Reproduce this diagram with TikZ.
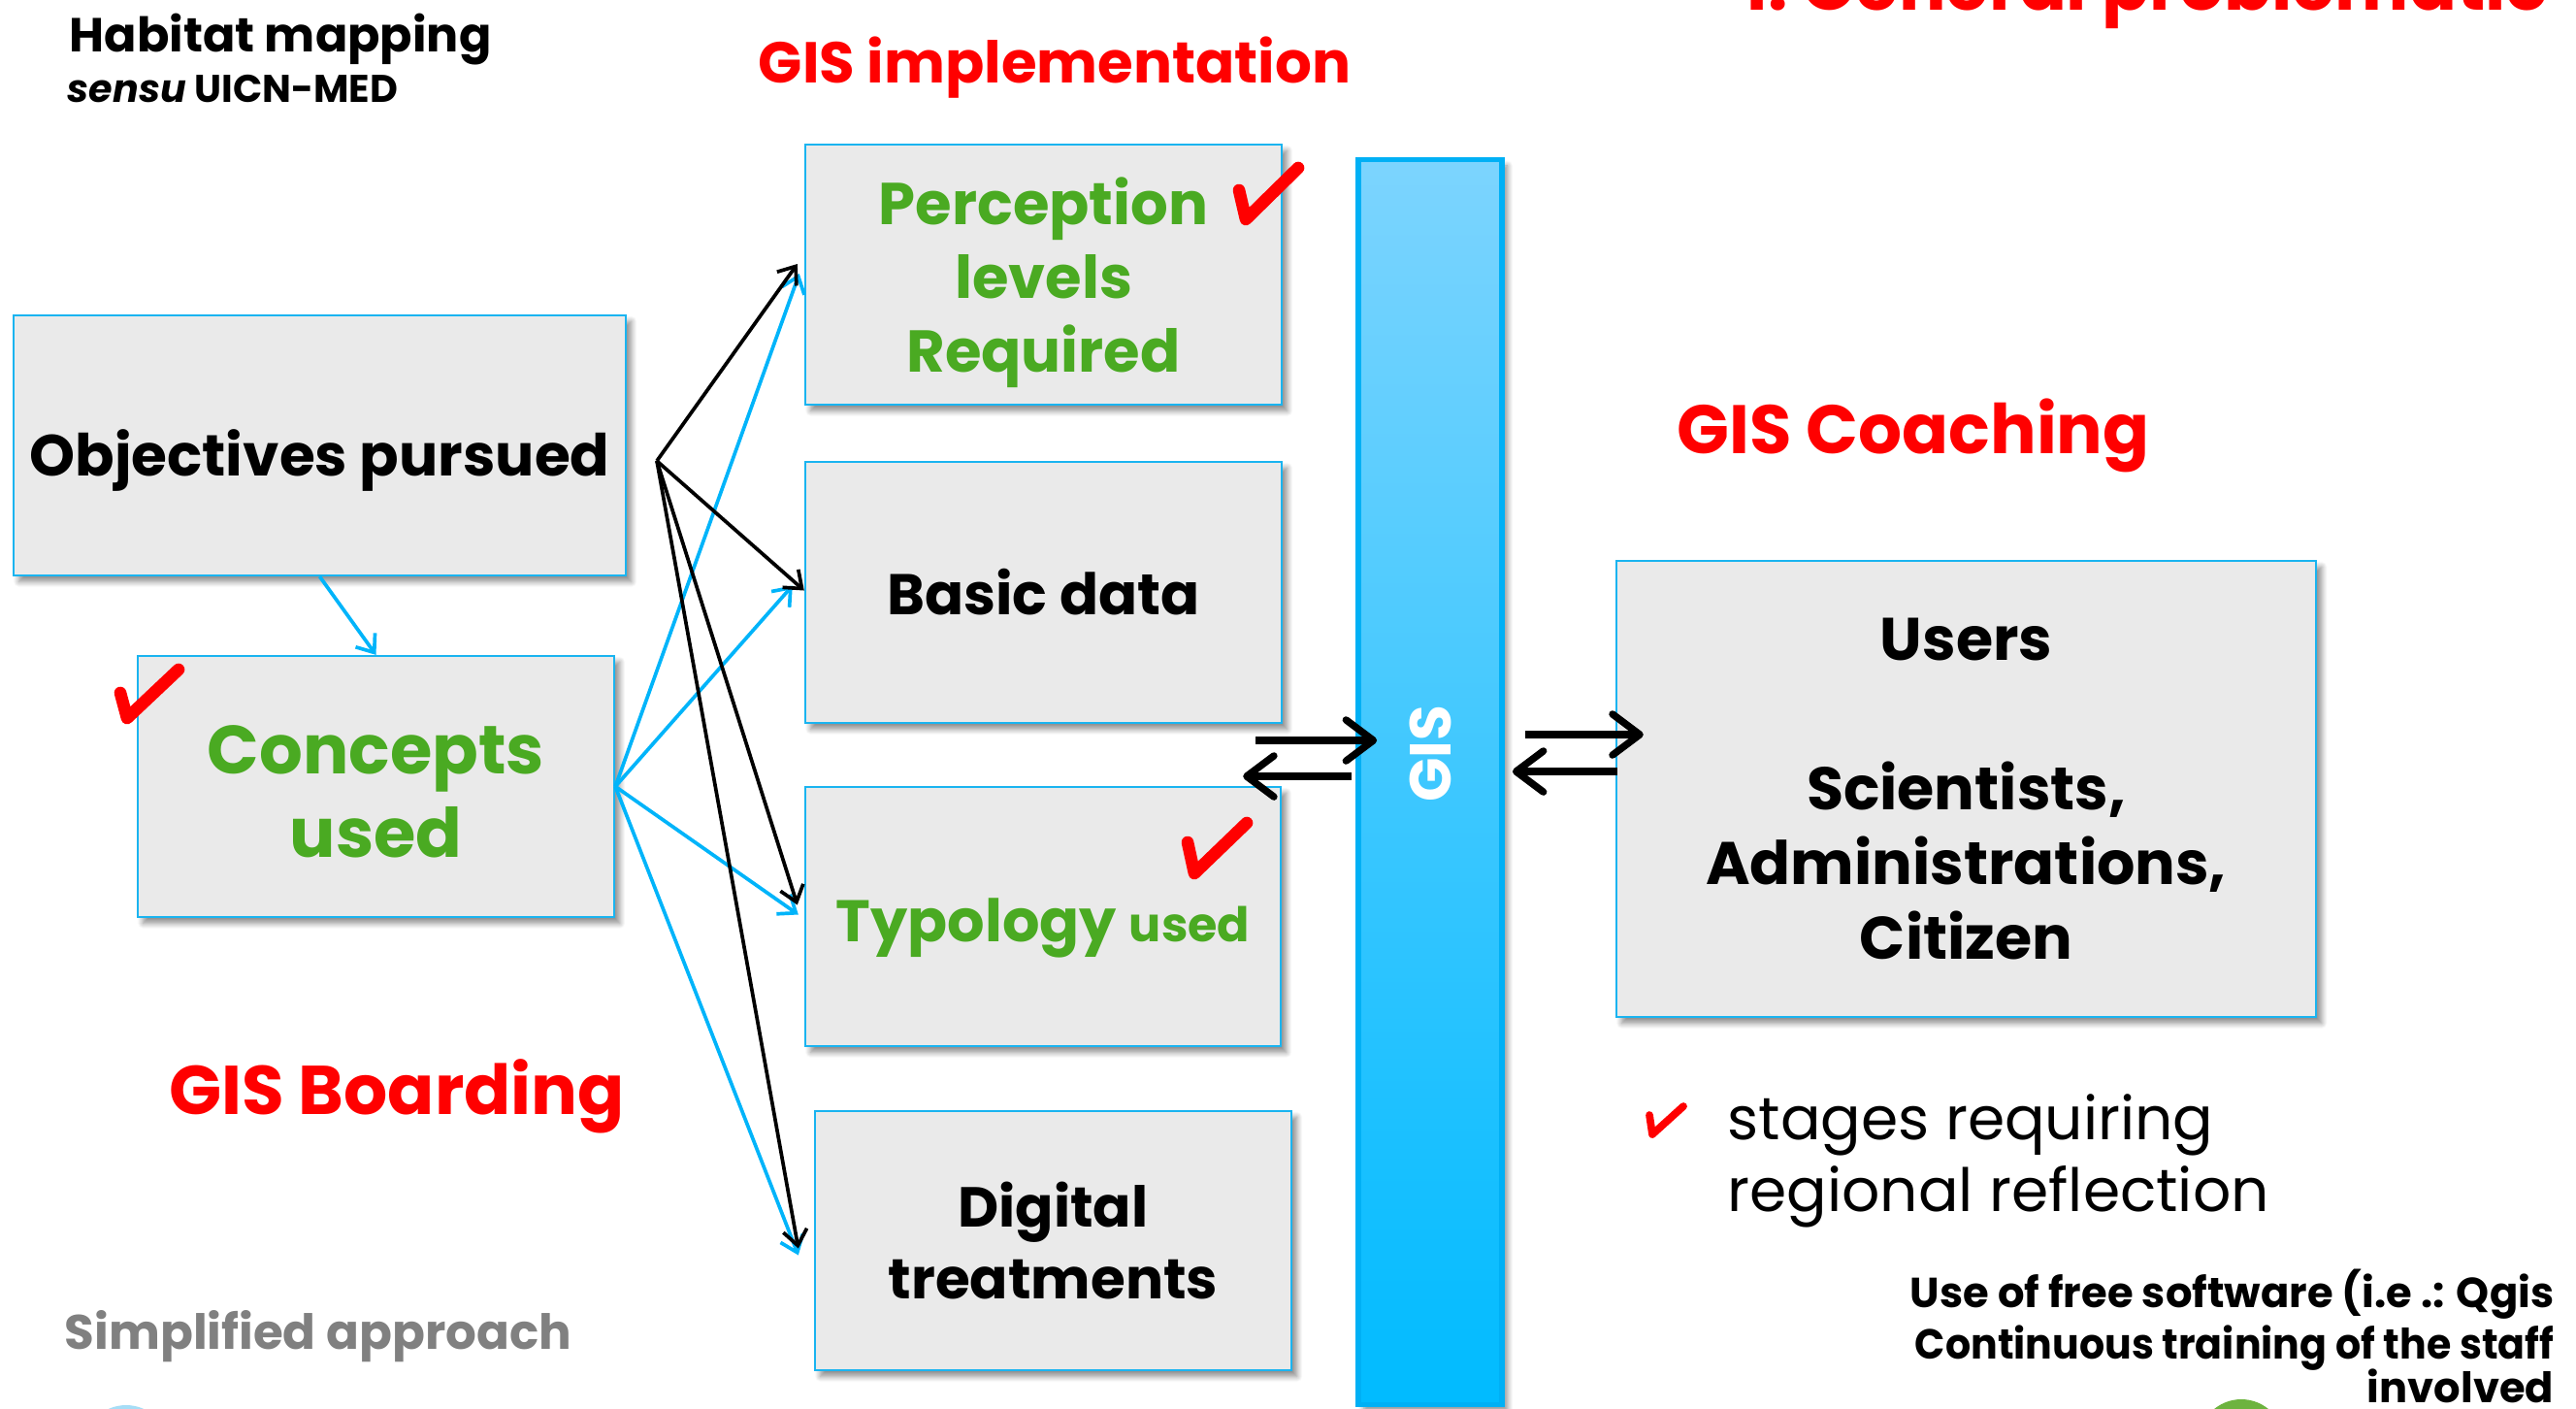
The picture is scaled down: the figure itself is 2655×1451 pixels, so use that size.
\documentclass[tikz,border=0pt]{standalone}
\usepackage{fontspec}
\setmainfont{Poppins}
\usetikzlibrary{arrows.meta,calc,shadows.blur}
\definecolor{boxfill}{HTML}{EAEAEA}
\definecolor{boxline}{HTML}{1AB4F0}
\definecolor{fanblue}{HTML}{00B4FA}
\definecolor{titlered}{HTML}{FF0000}
\definecolor{leafgreen}{HTML}{4AAA22}
\definecolor{greytext}{HTML}{808080}
\definecolor{barTop}{HTML}{7CD4FE}
\definecolor{barBottom}{HTML}{00BBFF}
\definecolor{barEdge}{HTML}{00B0F5}
\definecolor{iconblue}{HTML}{A6DDF6}
\definecolor{icongreen}{HTML}{6DB33F}

\newcommand\fs[2]{\fontsize{#1}{#2}\selectfont}
% lower a label inside its box without changing the box size
\newcommand\lowered[2]{\raisebox{-#1}[\height][\depth]{#2}}

\begin{document}
\begin{tikzpicture}[x=0.01cm,y=-0.01cm,
  box/.style={draw=boxline, line width=0.6pt, fill=boxfill, inner sep=0pt, align=center,
    blur shadow={shadow xshift=1.6pt, shadow yshift=-1.8pt, shadow blur radius=1.6pt,
                 shadow blur steps=8, shadow opacity=45}},
  heading/.style={text=titlered, font=\bfseries\fs{20}{24}, inner sep=0pt, anchor=base},
  plain/.style={inner sep=0pt},
  fanblack/.style={draw=black, line width=1.05pt, -{Straight Barb[length=4.5pt,width=7pt]}},
  fancyan/.style={draw=fanblue, line width=1.05pt, -{Straight Barb[length=4.5pt,width=7pt]}},
  swaparrow/.style={draw=black, line width=2.1pt, -{Straight Barb[length=8pt,width=12pt,round]}},
  redtick/.style={draw=titlered, line width=3.6pt, line cap=round, line join=round},
]
\useasboundingbox (0,0) rectangle (2655,1451);
\begin{scope}
\clip (0,0) rectangle (2655,1451);

% ---- headings and free texts ----
\node[plain, anchor=base west, font=\bfseries\fs{14}{17}] (habitat) at (71,53) {Habitat mapping};
\node[plain, anchor=base west, font=\bfseries\fs{11.3}{14}] (sensu) at (69,105) {\textit{sensu} UICN-MED};
\node[heading, font=\bfseries\fs{16.9}{20}] (impl) at (1087,85) {GIS implementation};
\node[heading, anchor=base east, font=\bfseries\fs{20.5}{25}] (general) at (2627,10) {I. General problematic};
\node[heading, font=\bfseries\fs{20.1}{24}] (coach) at (1972,467) {GIS Coaching};
\node[heading, font=\bfseries\fs{20.2}{24}] (board) at (409,1148) {GIS Boarding};
\node[plain, anchor=base, text=greytext, font=\bfseries\fs{14.2}{17}] (simple) at (328,1390) {Simplified approach};

% ---- boxes ----
\node[box, minimum width=6.31cm, minimum height=2.68cm, font=\bfseries\fs{17}{21}] (obj) at (329.5,459)
  {\lowered{4.3pt}{Objectives pursued}};
\node[box, minimum width=4.91cm, minimum height=2.69cm, text=leafgreen, font=\bfseries\fs{20}{24.5}] (conc) at (387.5,810.5)
  {\lowered{1.5pt}{\parbox{4cm}{\centering Concepts\\used}}};
\node[box, minimum width=4.91cm, minimum height=2.68cm, text=leafgreen, font=\bfseries\fs{17.3}{21.6}] (perc) at (1075.5,283)
  {\lowered{2.4pt}{\parbox{4cm}{\centering Perception\\levels\\Required}}};
\node[box, minimum width=4.91cm, minimum height=2.69cm, font=\bfseries\fs{16.8}{21}] (basic) at (1075.5,610.5) {Basic data};
\node[box, minimum width=4.90cm, minimum height=2.67cm, text=leafgreen, font=\bfseries] (typo) at (1075,944.5)
  {\lowered{3.4pt}{\fs{17.2}{22}Typology {\fs{14}{22}used}}};
\node[box, minimum width=4.91cm, minimum height=2.67cm, font=\bfseries\fs{16.5}{21}] (digit) at (1085.5,1278.5) {Digital\\treatments};
\node[box, minimum width=7.21cm, minimum height=4.70cm, font=\bfseries\fs{17.6}{21.9}] (users) at (2026.5,813)
  {Users\\[21.9pt]Scientists,\\Administrations,\\Citizen};

% ---- GIS bar ----
\node[draw=barEdge, line width=1.6pt, top color=barTop, bottom color=barBottom,
      minimum width=1.48cm, minimum height=12.82cm, inner sep=0pt,
      blur shadow={shadow xshift=1.6pt, shadow yshift=-1.8pt, shadow blur radius=1.6pt,
                   shadow blur steps=8, shadow opacity=45}] (gis) at (1474,806) {};
\node[plain, rotate=90, text=white, font=\bfseries\fs{17}{20}] (gislabel) at (1474,777) {GIS};

% ---- fans of connectors ----
\coordinate (hub) at (677,475);
\draw[fancyan] (obj.south) -- (conc.north);
\draw[fancyan] (conc.east) -- ($(perc.west)+(-5,-1)$);
\draw[fancyan] (conc.east) -- ($(basic.west)+(-12,-7)$);
\draw[fancyan] (conc.east) -- ($(typo.west)+(-6,-2)$);
\draw[fancyan] (conc.east) -- ($(digit.west)+(-16,15)$);
\draw[fanblack] (hub) -- ($(perc.west)+(-7,-11)$);
\draw[fanblack] (hub) -- ($(basic.west)+(0,-2)$);
\draw[fanblack] (hub) -- ($(typo.west)+(-7,-12)$);
\draw[fanblack] (hub) -- ($(digit.west)+(-16,8)$);

% ---- exchanges with the GIS ----
\coordinate (l1s) at ($(gis.west)+(-103,-43)$);
\coordinate (l1e) at ($(gis.west)+(22,-43)$);
\coordinate (l2s) at ($(gis.west)+(-4,-6)$);
\coordinate (l2e) at ($(gis.west)+(-116,-6)$);
\coordinate (r1s) at ($(gis.east)+(21,-49)$);
\coordinate (r1e) at ($(users.west)+(29,-56)$);
\coordinate (r2s) at ($(users.west)+(2,-18)$);
\coordinate (r2e) at ($(gis.east)+(8,-11)$);
\draw[swaparrow] (l1s) -- (l1e);
\draw[swaparrow] (l2s) -- (l2e);
\draw[swaparrow] (r1s) -- (r1e);
\draw[swaparrow] (r2s) -- (r2e);

% ---- ticks ----
\draw[redtick] (124,714) -- (131,740) -- (184,690);
\draw[redtick] (1277,196) -- (1284,226) -- (1338,173);
\draw[redtick] (1224,868) -- (1231,900) -- (1285,848);
\draw[redtick, line width=2.2pt] (1700,1149) -- (1703,1169) -- (1735,1140);

% ---- legend ----
\node[plain, anchor=base west, font=\fs{17.5}{21}] (legend1) at (1780,1174) {stages requiring};
\node[plain, anchor=base west, font=\fs{17.5}{21}] (legend2) at (1780,1248) {regional reflection};

% ---- footnote lines ----
\node[plain, anchor=base east, font=\bfseries\fs{12.3}{15}] (foot1) at (2633,1347) {Use of free software (i.e .: Qgis};
\node[plain, anchor=base east, font=\bfseries\fs{12.3}{15}] (foot2) at (2633,1400) {\scalebox{0.95}[1]{Continuous training of the staff}};
\node[plain, anchor=base east, font=\bfseries\fs{12.3}{15}] (foot3) at (2633,1445) {involved};

% ---- icons cut by the lower edge ----
\fill[iconblue] (130,1492) circle (44);
\fill[icongreen] (2310,1486) circle (44);
\end{scope}
\end{tikzpicture}
\end{document}
